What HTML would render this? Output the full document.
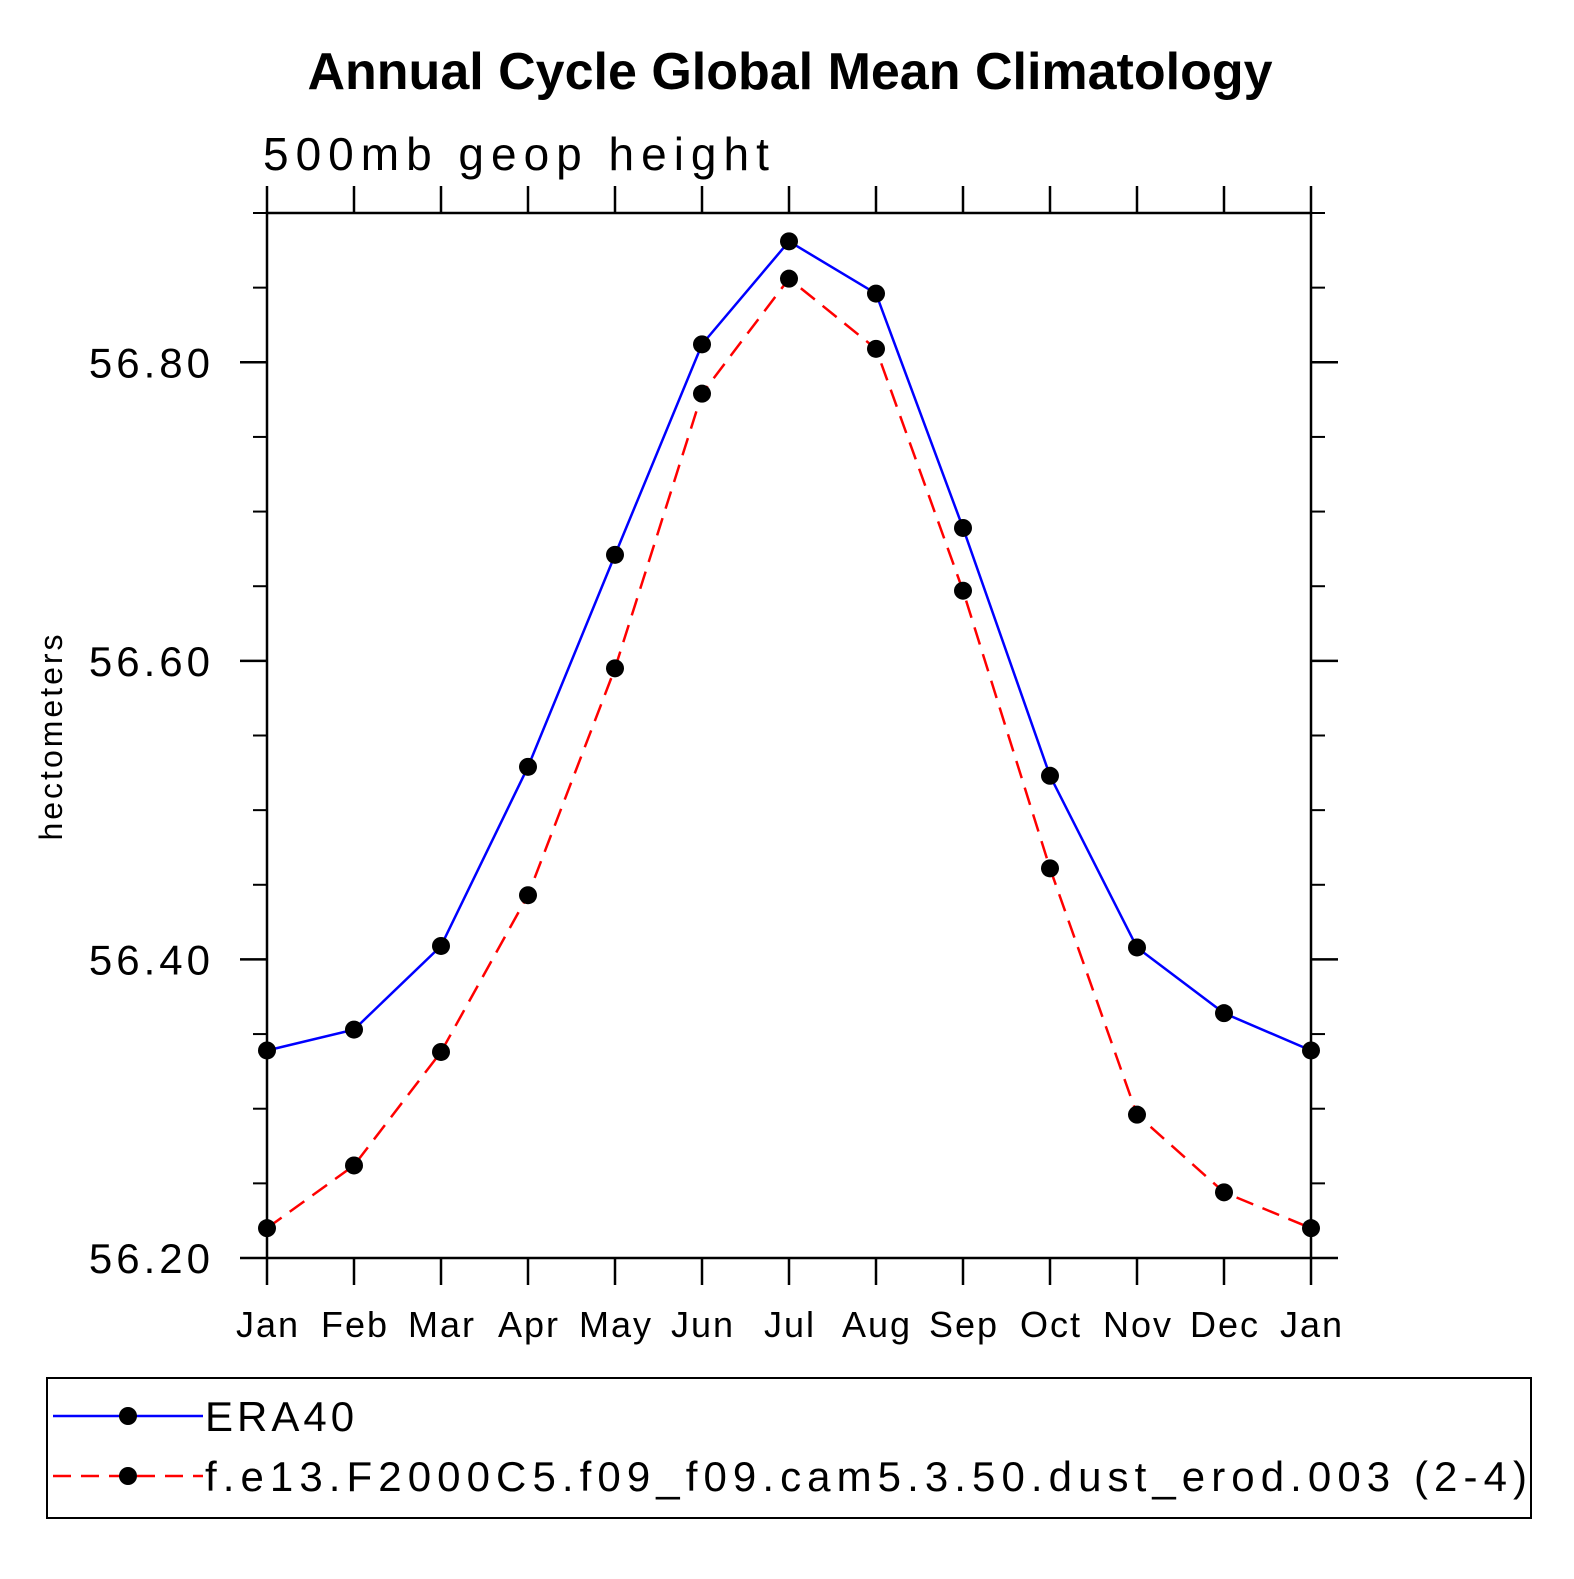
<!DOCTYPE html>
<html><head><meta charset="utf-8"><style>
body{margin:0;background:#fff}
svg text{font-family:"Liberation Sans",sans-serif;fill:#000}
</style></head><body>
<svg id="chart" width="1574" height="1574" viewBox="0 0 1574 1574" xmlns="http://www.w3.org/2000/svg">
<rect width="1574" height="1574" fill="#fff"/>
<text x="790" y="89" font-size="52" font-weight="bold" text-anchor="middle">Annual Cycle Global Mean Climatology</text>
<text x="263" y="170" font-size="46" letter-spacing="7">500mb geop height</text>
<text transform="translate(62,736) rotate(-90)" font-size="32" letter-spacing="3" text-anchor="middle">hectometers</text>
<g id="axes"></g>
<g id="series"></g>
<rect x="47" y="1378" width="1484" height="140" fill="none" stroke="#000" stroke-width="2"/>
<g>
<line x1="53" y1="1416" x2="203" y2="1416" stroke="#00f" stroke-width="2.5"/>
<circle cx="128" cy="1416" r="9"/>
<text x="205" y="1431" font-size="42" letter-spacing="4">ERA40</text>
</g>
<g>
<line x1="53" y1="1476" x2="203" y2="1476" stroke="#f00" stroke-width="2.5" stroke-dasharray="18,10"/>
<circle cx="128" cy="1476" r="9"/>
<text x="205" y="1491" font-size="42" textLength="1322" lengthAdjust="spacing">f.e13.F2000C5.f09_f09.cam5.3.50.dust_erod.003 (2-4)</text>
</g>
</svg>
<script>
const months = ["Jan","Feb","Mar","Apr","May","Jun","Jul","Aug","Sep","Oct","Nov","Dec","Jan"];
const era40 = [56.339,56.353,56.409,56.529,56.671,56.812,56.881,56.846,56.689,56.523,56.408,56.364,56.339];
const model = [56.220,56.262,56.338,56.443,56.595,56.779,56.856,56.809,56.647,56.461,56.296,56.244,56.220];
const yTicks = [56.20,56.40,56.60,56.80];
const yTickLabels = ["56.20","56.40","56.60","56.80"];
const yMinor = [56.25,56.30,56.35,56.45,56.50,56.55,56.65,56.70,56.75,56.85,56.90];

const L=267,R=1311,T=213,B=1258,yMin=56.2,yMax=56.9;
const NS="http://www.w3.org/2000/svg";
function xs(i){return L+(R-L)*i/(months.length-1);}
function ys(v){return B-(v-yMin)/(yMax-yMin)*(B-T);}
function mk(tag,attrs,parent){const e=document.createElementNS(NS,tag);for(const k in attrs)e.setAttribute(k,attrs[k]);parent.appendChild(e);return e;}
const ax=document.getElementById('axes');
const frame=mk('rect',{x:L,y:T,width:R-L,height:B-T,fill:'none',stroke:'#000','stroke-width':2.5},ax);


months.forEach((m,i)=>{
  const x=xs(i);
  mk('line',{x1:x,y1:B,x2:x,y2:B+27,stroke:'#000','stroke-width':2.5},ax);
  mk('line',{x1:x,y1:T,x2:x,y2:T-27,stroke:'#000','stroke-width':2.5},ax);
  const t=mk('text',{x:x+1,y:1337,'font-size':36,'letter-spacing':2,'text-anchor':'middle'},ax);
  t.textContent=m;
  
  
});
yTicks.forEach((v,i)=>{
  const y=ys(v);
  mk('line',{x1:L-27,y1:y,x2:L,y2:y,stroke:'#000','stroke-width':2.5},ax);
  mk('line',{x1:R,y1:y,x2:R+27,y2:y,stroke:'#000','stroke-width':2.5},ax);
  const t=mk('text',{x:214,y:y+15,'font-size':42,'letter-spacing':4,'text-anchor':'end'},ax);
  t.textContent=yTickLabels[i];
  
  
});
yMinor.forEach(v=>{
  const y=ys(v);
  mk('line',{x1:L-14,y1:y,x2:L,y2:y,stroke:'#000','stroke-width':2},ax);
  mk('line',{x1:R,y1:y,x2:R+14,y2:y,stroke:'#000','stroke-width':2},ax);
});
const sg=document.getElementById('series');
function draw(vals,color,dash,name){
  const pts=vals.map((v,i)=>xs(i)+','+ys(v)).join(' ');
  const pl=mk('polyline',{points:pts,fill:'none',stroke:color,'stroke-width':2.5,'stroke-dasharray':dash},sg);
  
  
  vals.forEach((v,i)=>{
    const c=mk('circle',{cx:xs(i),cy:ys(v),r:9,fill:'#000'},sg);
    
    
  });
}
draw(era40,'#00f','none','era40');
draw(model,'#f00','18,10','model');
</script>
</body></html>
